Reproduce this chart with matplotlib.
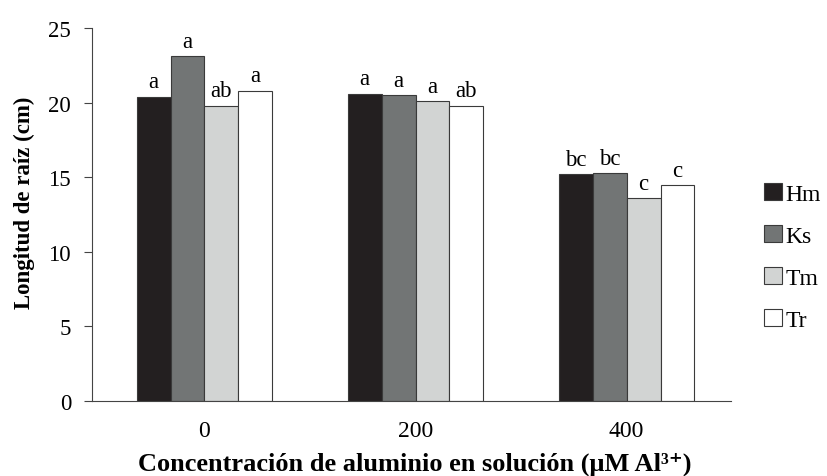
import numpy as np
import matplotlib
matplotlib.use('Agg')
import matplotlib.pyplot as plt
from matplotlib.patches import Patch

plt.rcParams['font.family'] = ['Liberation Serif', 'DejaVu Serif']

# datos
concentraciones = ['0', '200', '400']
cultivares = ['Hm', 'Ks', 'Tm', 'Tr']
hm = [20.4, 20.6, 15.2]
ks = [23.1, 20.5, 15.25]
tm = [19.8, 20.1, 13.6]
tr = [20.8, 19.8, 14.45]
letras_hm = ['a', 'a', 'bc']
letras_ks = ['a', 'a', 'bc']
letras_tm = ['ab', 'a', 'c']
letras_tr = ['a', 'ab', 'c']

colores = ['#231f20', '#727575', '#d2d4d3', '#ffffff']
series = [hm, ks, tm, tr]
letras = [letras_hm, letras_ks, letras_tm, letras_tr]

fig = plt.figure(figsize=(8.28, 4.77), dpi=100)
ax = fig.add_axes([92 / 828, 75 / 477, 639 / 828, 373 / 477])

x = np.arange(len(concentraciones))
w = 0.161
for i, vals in enumerate(series):
    pos = x + (i - 1.5) * w
    ax.bar(pos, vals, width=w, color=colores[i], edgecolor='#3a3a3a', linewidth=0.8)
    for p, v, l in zip(pos, vals, letras[i]):
        ax.text(p, v + 0.3, l, ha='center', va='bottom', fontsize=16.5)

ax.set_xlim(-0.533, 2.495)
ax.set_ylim(0, 25)
ax.set_yticks([0, 5, 10, 15, 20, 25])
ax.set_xticks(x)
ax.set_xticklabels(concentraciones)
ax.tick_params(axis='y', labelsize=16.5, length=6, width=0.8, pad=9, color='#444444')
ax.tick_params(axis='x', labelsize=17, length=0, pad=14)
ax.spines['top'].set_visible(False)
ax.spines['right'].set_visible(False)
ax.spines['left'].set_color('#444444')
ax.spines['bottom'].set_color('#444444')

ax.set_ylabel('Longitud de raíz (cm)', fontsize=16.5, fontweight='bold', labelpad=10, y=0.535)
fig.text(415 / 828, 1 - 464 / 477, 'Concentración de aluminio en solución (μM Al³⁺)',
         fontsize=19, fontweight='bold', ha='center', va='center')

handles = [Patch(facecolor=c, edgecolor='#3a3a3a', linewidth=0.8) for c in colores]
fig.legend(handles, cultivares, loc='center left', bbox_to_anchor=(755 / 828, 1 - 258 / 477),
           frameon=False, fontsize=17, handlelength=0.75, handleheight=0.75,
           handletextpad=0.15, labelspacing=0.85, borderaxespad=0)

fig.savefig('out.png', dpi=100)
